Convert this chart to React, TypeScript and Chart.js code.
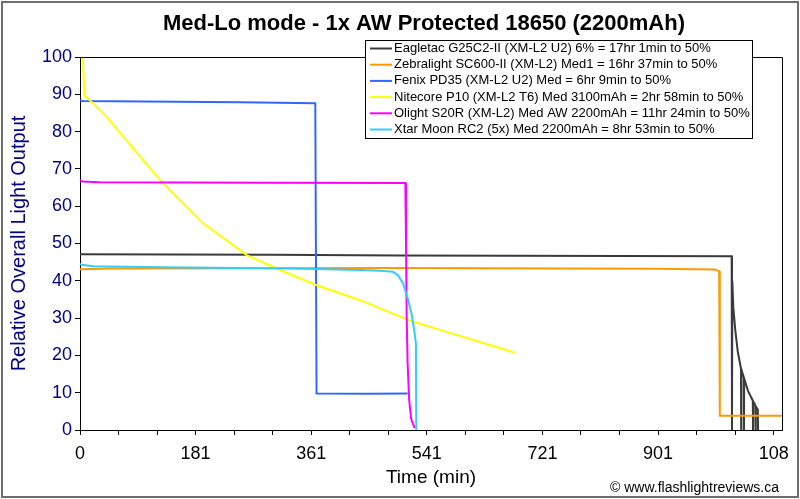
import { useEffect, useRef } from 'react';
import { Chart, registerables } from 'chart.js';

Chart.register(...registerables);

const chartTitle = 'Med-Lo mode - 1x AW Protected 18650 (2200mAh)';
const xAxisTitle = 'Time (min)';
const yAxisTitle = 'Relative Overall Light Output';
const creditText = '\u00A9 www.flashlightreviews.ca';

const seriesNames = [
  'Eagletac G25C2-II (XM-L2 U2) 6% = 17hr 1min to 50%',
  'Zebralight SC600-II (XM-L2) Med1 = 16hr 37min to 50%',
  'Fenix PD35 (XM-L2 U2) Med = 6hr 9min to 50%',
  'Nitecore P10 (XM-L2 T6) Med 3100mAh = 2hr 58min to 50%',
  'Olight S20R (XM-L2) Med AW 2200mAh = 11hr 24min to 50%',
  'Xtar Moon RC2 (5x) Med 2200mAh = 8hr 53min to 50%',
];
const seriesColors = ['#3a3a3a', '#ff9900', '#3366ff', '#ffff00', '#ff00ff', '#33ccff'];

const eagletacTime = [0, 300, 500, 1016.5, 1017, 1017.5, 1019, 1022, 1026, 1031, 1031.3, 1031.6, 1035.4, 1035.7, 1036, 1042, 1049.5, 1049.8, 1050.1, 1053.6, 1053.9, 1054.2, 1057.3, 1057.6];
const eagletacOutput = [47.1, 47.0, 46.8, 46.6, 0, 40, 33, 27, 21, 16.5, 0, 16.3, 14, 0, 13.8, 10.5, 7.8, 0, 7.7, 6.5, 0, 6.4, 5.4, 0];

const zebralightTime = [0, 50, 500, 900, 990, 997, 998, 1095];
const zebralightOutput = [43.1, 43.3, 43.4, 43.2, 43.0, 42.6, 3.8, 3.8];

const fenixTime = [0, 3, 100, 250, 367, 369, 450, 511];
const fenixOutput = [88.4, 88.2, 88.1, 87.9, 87.6, 9.8, 9.7, 9.8];

const nitecoreTime = [4, 7, 21, 42, 73, 125, 135, 192, 260, 312, 369, 437, 468, 520, 572, 639, 678];
const nitecoreOutput = [101, 89.7, 87.5, 83.9, 77.5, 67, 65.2, 55.4, 46.9, 42.9, 38.8, 34.8, 32.6, 29, 26.3, 22.8, 20.7];

const olightTime = [0, 4, 30, 300, 507.5, 508.5, 509.5, 511, 513.5, 516.5, 522];
const olightOutput = [67, 66.6, 66.4, 66.3, 66.2, 50, 31, 18, 8, 3, 0.5];

const xtarTime = [0, 2, 21, 125, 332, 437, 468, 488, 496, 504, 512, 517, 522, 524, 524.5];
const xtarOutput = [44.6, 44.3, 43.9, 43.6, 43.3, 42.9, 42.7, 42.4, 41.5, 39.3, 34.8, 31.3, 25.9, 23.2, 0];

const seriesTimes = [eagletacTime, zebralightTime, fenixTime, nitecoreTime, olightTime, xtarTime];
const seriesOutputs = [eagletacOutput, zebralightOutput, fenixOutput, nitecoreOutput, olightOutput, xtarOutput];

const xMin = 0;
const xMax = 1095;
const xTickStep = 60.111;
const xTickCount = 19;
const xTickLabels = ['0', '181', '361', '541', '721', '901', '108'];
const yMin = 0;
const yMax = 100;
const yStep = 10;

const FONT = "'Liberation Sans', Arial, sans-serif";
const NAVY = '#000080';

const decorPlugin = {
  id: 'decor',
  beforeDraw(chart: any) {
    const ctx = chart.ctx;
    ctx.save();
    ctx.fillStyle = '#ffffff';
    ctx.fillRect(0, 0, chart.width, chart.height);
    ctx.restore();
  },
  afterDraw(chart: any) {
    const ctx = chart.ctx;
    const a = chart.chartArea;
    ctx.save();
    // plot frame top/right
    ctx.strokeStyle = '#000';
    ctx.lineWidth = 1;
    ctx.beginPath();
    ctx.moveTo(a.left, a.top + 0.5);
    ctx.lineTo(a.right + 0.5, a.top + 0.5);
    ctx.lineTo(a.right + 0.5, a.bottom);
    ctx.stroke();

    // title
    ctx.fillStyle = '#000';
    ctx.font = `bold 22px ${FONT}`;
    ctx.textAlign = 'center';
    ctx.textBaseline = 'middle';
    ctx.fillText(chartTitle, 424, 24);

    // legend
    const lx = 365, ly = 40, lw = 387, lh = 98;
    ctx.fillStyle = '#fff';
    ctx.fillRect(lx, ly, lw, lh);
    ctx.strokeStyle = '#000';
    ctx.lineWidth = 1;
    ctx.strokeRect(lx + 0.5, ly + 0.5, lw, lh);
    ctx.font = `13px ${FONT}`;
    ctx.textAlign = 'left';
    ctx.textBaseline = 'middle';
    seriesNames.forEach((name, i) => {
      const y = 48.5 + i * 16.2;
      ctx.strokeStyle = seriesColors[i];
      ctx.lineWidth = 2;
      ctx.beginPath();
      ctx.moveTo(370, y);
      ctx.lineTo(392, y);
      ctx.stroke();
      ctx.fillStyle = '#000';
      ctx.fillText(name, 394, y);
    });

    // credit
    ctx.font = `14px ${FONT}`;
    ctx.fillStyle = '#000';
    ctx.textAlign = 'left';
    ctx.fillText(creditText, 610, 488);

    // outer frame
    ctx.strokeStyle = '#6e6e6e';
    ctx.lineWidth = 2;
    ctx.strokeRect(2, 2, chart.width - 4, chart.height - 4);
    ctx.restore();
  },
};

export default function App() {
  const ref = useRef<HTMLCanvasElement | null>(null);
  useEffect(() => {
    if (!ref.current) return;
    const datasets = seriesNames.map((name, i) => ({
      label: name,
      data: seriesTimes[i].map((t, j) => ({ x: t, y: seriesOutputs[i][j] })),
      borderColor: seriesColors[i],
      backgroundColor: seriesColors[i],
      borderWidth: 2,
      pointRadius: 0,
      tension: 0,
      fill: false,
      order: seriesNames.length - i,
    }));
    const chart = new Chart(ref.current, {
      type: 'line',
      data: { datasets },
      plugins: [decorPlugin],
      options: {
        animation: false,
        responsive: false,
        devicePixelRatio: 1,
        parsing: true,
        layout: { padding: { top: 57, right: 18, left: 0, bottom: 0 } },
        plugins: { legend: { display: false }, title: { display: false }, tooltip: { enabled: false } },
        font: { family: FONT },
        scales: {
          x: {
            type: 'linear',
            min: xMin,
            max: xMax,
            afterBuildTicks: (s: any) => {
              s.ticks = Array.from({ length: xTickCount }, (_, i) => ({ value: i * xTickStep }));
            },
            afterFit: (s: any) => {
              s.height = 69;
              s.paddingLeft = 0;
              s.paddingRight = 0;
            },
            ticks: {
              autoSkip: false,
              maxRotation: 0,
              color: '#000',
              padding: 8,
              font: { family: FONT, size: 18 },
              callback: (_v: any, i: number) => (i % 3 === 0 ? xTickLabels[i / 3] : ''),
            },
            grid: { drawOnChartArea: false, tickLength: 5, color: '#000' },
            border: { color: '#000', width: 1 },
            title: {
              display: true,
              text: xAxisTitle,
              color: '#000',
              font: { family: FONT, size: 19 },
              padding: { top: 0, bottom: 9.6 },
            },
          },
          y: {
            type: 'linear',
            min: yMin,
            max: yMax,
            afterFit: (s: any) => {
              s.width = 80;
              s.paddingTop = 0;
              s.paddingBottom = 0;
            },
            ticks: {
              stepSize: yStep,
              color: NAVY,
              padding: 3,
              font: { family: FONT, size: 18 },
            },
            grid: { drawOnChartArea: false, tickLength: 5, color: '#000' },
            border: { color: '#000', width: 1 },
            title: {
              display: true,
              text: yAxisTitle,
              color: NAVY,
              font: { family: FONT, size: 20 },
              padding: { top: 7, bottom: 0 },
            },
          },
        },
      } as any,
    });
    return () => chart.destroy();
  }, []);
  return (
    <div style={{ position: 'fixed', left: 0, top: 0, width: 800, height: 499 }}>
      <canvas ref={ref} width={800} height={499} />
    </div>
  );
}
